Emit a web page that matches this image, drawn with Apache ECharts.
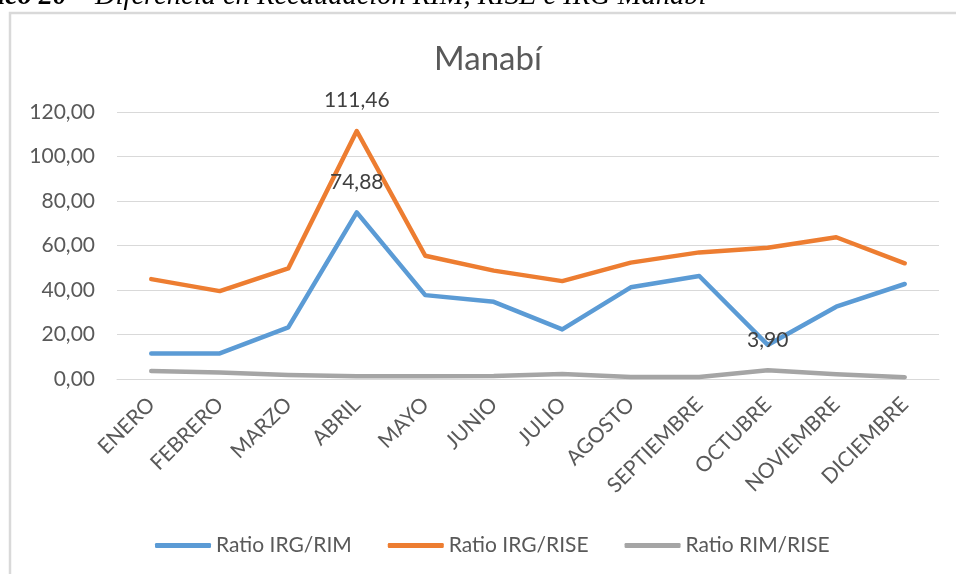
<!DOCTYPE html>
<html>
<head>
<meta charset="utf-8">
<script src="https://cdn.jsdelivr.net/npm/echarts@6/dist/echarts.min.js"></script>
<style>
  html, body { margin: 0; padding: 0; background: #fff; }
  #chart { width: 956px; height: 574px; }
</style>
</head>
<body>
<div id="chart"></div>
<script>
const months = ['ENERO', 'FEBRERO', 'MARZO', 'ABRIL', 'MAYO', 'JUNIO', 'JULIO',
  'AGOSTO', 'SEPTIEMBRE', 'OCTUBRE', 'NOVIEMBRE', 'DICIEMBRE']
const ratioIrgRim = [11.5, 11.5, 23.2, 74.88, 37.7, 34.7, 22.3, 41.2, 46.3, 15.3, 32.5, 42.7]
const ratioIrgRise = [44.9, 39.5, 49.7, 111.46, 55.4, 48.7, 44.0, 52.3, 56.9, 59.0, 63.7, 52.0]
const ratioRimRise = [3.6, 2.9, 1.8, 1.2, 1.2, 1.3, 2.2, 0.9, 0.9, 3.9, 2.1, 0.8]
// which points carry a data label
const labelsIrgRim = [3]
const labelsIrgRise = [3]
const labelsRimRise = [9]
const yTicks = [0, 20, 40, 60, 80, 100, 120]

const fmt = v => v.toFixed(2).replace('.', ',')
const font = 'Lato, "Open Sans", sans-serif'

function withLabels(values, idx) {
  return values.map((v, i) => idx.indexOf(i) >= 0
    ? { value: v, label: { show: true } }
    : v)
}

function makeSeries(name, values, idx, color) {
  return {
    name: name,
    type: 'line',
    symbol: 'circle',
    symbolSize: 0,
    showSymbol: true,
    data: withLabels(values, idx),
    lineStyle: { color: color, width: 4.5, cap: 'round', join: 'round' },
    itemStyle: { color: color },
    label: {
      show: false,
      position: 'top',
      distance: 20,
      color: '#404040',
      fontFamily: font,
      fontSize: 21,
      formatter: p => fmt(p.value)
    },
    emphasis: { disabled: true }
  }
}

const chart = echarts.init(document.getElementById('chart'))
chart.setOption({
  animation: false,
  textStyle: { fontFamily: font },
  graphic: [
    {
      type: 'rect',
      shape: { x: 10, y: 13, width: 1000, height: 620 },
      style: { fill: 'none', stroke: '#d9d9d9', lineWidth: 2.5 }
    },
    {
      type: 'text',
      x: 90, y: 11,
      style: {
        text: 'Gráfico 20 - ',
        fill: '#000',
        font: 'italic bold 28px "Liberation Serif", serif',
        textAlign: 'right',
        textVerticalAlign: 'bottom'
      }
    },
    {
      type: 'text',
      x: 95, y: 11,
      style: {
        text: 'Diferencia en Recaudación RIM, RISE e IRG Manabí',
        fill: '#000',
        font: 'italic 28.5px "Liberation Serif", serif',
        textAlign: 'left',
        textVerticalAlign: 'bottom'
      }
    },
    {
      type: 'text',
      x: 488, y: 59,
      style: {
        text: 'Manabí',
        fill: '#595959',
        font: '33px Lato, sans-serif',
        textAlign: 'center',
        textVerticalAlign: 'middle'
      }
    }
  ],
  legend: {
    left: 150,
    top: 530,
    icon: 'roundRect',
    itemWidth: 56,
    itemHeight: 5,
    itemGap: 36,
    selectedMode: false,
    textStyle: { color: '#595959', fontSize: 21, fontFamily: font },
    data: ['Ratio IRG/RIM', 'Ratio IRG/RISE', 'Ratio RIM/RISE']
  },
  grid: {
    left: 117,
    right: 17,
    top: 112,
    bottom: 195
  },
  xAxis: {
    type: 'category',
    data: months,
    boundaryGap: true,
    axisLine: { show: true, lineStyle: { color: '#d9d9d9', width: 1 } },
    axisTick: { show: false },
    axisLabel: {
      rotate: 45,
      margin: 22,
      interval: 0,
      color: '#595959',
      fontSize: 21,
      fontFamily: font
    }
  },
  yAxis: {
    type: 'value',
    min: yTicks[0],
    max: yTicks[yTicks.length - 1],
    interval: yTicks[1] - yTicks[0],
    axisLine: { show: false },
    axisTick: { show: false },
    splitLine: { lineStyle: { color: '#d9d9d9', width: 1 } },
    axisLabel: {
      margin: 22,
      color: '#595959',
      fontSize: 21,
      fontFamily: font,
      formatter: v => fmt(v)
    }
  },
  series: [
    makeSeries('Ratio IRG/RIM', ratioIrgRim, labelsIrgRim, '#5B9BD5'),
    makeSeries('Ratio IRG/RISE', ratioIrgRise, labelsIrgRise, '#ED7D31'),
    makeSeries('Ratio RIM/RISE', ratioRimRise, labelsRimRise, '#A5A5A5')
  ]
})
</script>
</body>
</html>
